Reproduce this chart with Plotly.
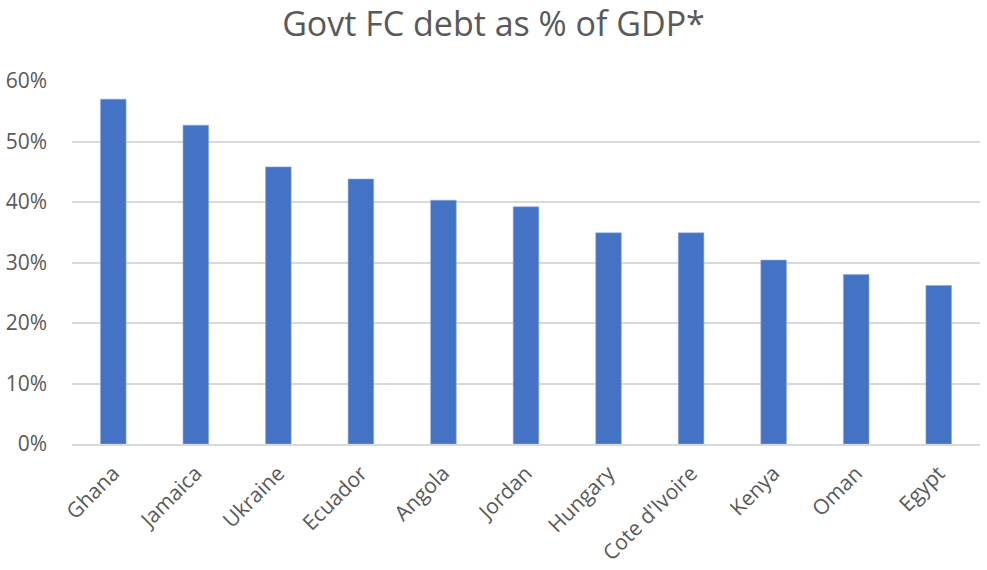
import plotly.graph_objects as go

countries = ["Ghana", "Jamaica", "Ukraine", "Ecuador", "Angola", "Jordan",
             "Hungary", "Cote d'Ivoire", "Kenya", "Oman", "Egypt"]
debt_pct_gdp = [0.570, 0.527, 0.458, 0.438, 0.403, 0.392,
                0.349, 0.349, 0.304, 0.280, 0.262]
y_ticks = [0, 0.1, 0.2, 0.3, 0.4, 0.5, 0.6]

text_color = "#595959"
font_family = "Open Sans, sans-serif"

fig = go.Figure(
    go.Bar(
        x=countries,
        y=debt_pct_gdp,
        marker=dict(color="#4472C4", line=dict(color="#8FAADC", width=0.6)),
    )
)

fig.update_layout(
    width=987,
    height=570,
    margin=dict(l=72, r=7, t=81, b=126),
    paper_bgcolor="white",
    plot_bgcolor="white",
    bargap=0.69,
    showlegend=False,
    font=dict(family=font_family, color=text_color),
    title=dict(
        text="Govt FC debt as % of GDP*",
        x=0.5,
        xanchor="center",
        y=0.958,
        yanchor="middle",
        font=dict(size=34, color=text_color, family=font_family),
    ),
    xaxis=dict(
        tickangle=-45,
        tickfont=dict(size=21, color=text_color),
        showgrid=False,
        showline=True,
        linecolor="#d9d9d9",
        linewidth=1.5,
        ticks="",
        ticklabelstandoff=7,
        automargin=False,
    ),
    yaxis=dict(
        range=[0, 0.6],
        tickvals=y_ticks,
        tickformat=".0%",
        tickfont=dict(size=21, color=text_color),
        showgrid=True,
        gridcolor="#d9d9d9",
        gridwidth=1.5,
        zeroline=False,
        ticks="",
        ticklabelstandoff=24,
        automargin=False,
    ),
)

fig.write_html("out.html")
